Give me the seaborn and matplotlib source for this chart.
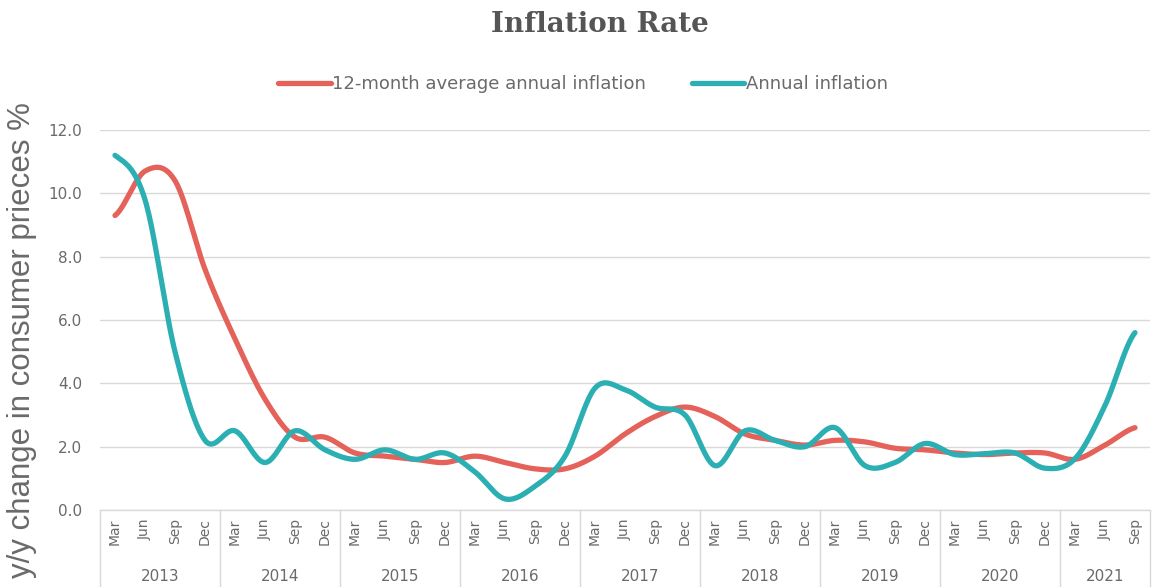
import numpy as np
import pandas as pd
import matplotlib
matplotlib.use("Agg")
import matplotlib.pyplot as plt
import matplotlib.transforms as mtransforms
import seaborn as sns

# Quarterly observations, Mar 2013 - Sep 2021
years = ["2013", "2014", "2015", "2016", "2017", "2018", "2019", "2020", "2021"]
months_per_year = [4, 4, 4, 4, 4, 4, 4, 4, 3]
month_names = ["Mar", "Jun", "Sep", "Dec"]

avg_inflation = [9.3, 10.7, 10.4, 7.6, 5.4, 3.5, 2.3, 2.3,
                 1.8, 1.7, 1.6, 1.5, 1.7, 1.5, 1.3, 1.3,
                 1.7, 2.4, 2.95, 3.25, 2.95, 2.4, 2.2, 2.05,
                 2.2, 2.15, 1.95, 1.9, 1.8, 1.75, 1.8, 1.8,
                 1.6, 2.05, 2.6]
annual_inflation = [11.2, 9.8, 5.0, 2.2, 2.5, 1.5, 2.5, 1.9,
                    1.6, 1.9, 1.6, 1.8, 1.2, 0.35, 0.75, 1.7,
                    3.85, 3.8, 3.25, 3.0, 1.4, 2.5, 2.2, 2.0,
                    2.6, 1.4, 1.5, 2.1, 1.75, 1.78, 1.8, 1.32,
                    1.62, 3.3, 5.6]

month_labels = [m for n in months_per_year for m in month_names[:n]]

RED = "#E5625B"
TEAL = "#2BAFB3"
GRID = "#D9D9D9"
TEXT = "#6A6A6A"


def smooth(y, samples=24):
    """Catmull-Rom curve through the quarterly points."""
    y = np.asarray(y, dtype=float)
    p = np.concatenate([[y[0]], y, [y[-1]]])
    xs, ys = [], []
    for i in range(len(y) - 1):
        p0, p1, p2, p3 = p[i], p[i + 1], p[i + 2], p[i + 3]
        t = np.linspace(0, 1, samples, endpoint=False)
        seg = 0.5 * ((2 * p1) + (-p0 + p2) * t
                     + (2 * p0 - 5 * p1 + 4 * p2 - p3) * t ** 2
                     + (-p0 + 3 * p1 - 3 * p2 + p3) * t ** 3)
        xs.append(i + t)
        ys.append(seg)
    xs.append([len(y) - 1])
    ys.append([y[-1]])
    return np.concatenate(xs), np.concatenate(ys)


sns.set_theme(style="white")
plt.rcParams["font.family"] = ["DejaVu Sans"]

fig = plt.figure(figsize=(11.53, 5.87), dpi=100)
ax = fig.add_axes([100 / 1153, 77 / 587, 1050 / 1153, 380 / 587])

frames = []
for name, vals in [("12-month average annual inflation", avg_inflation),
                   ("Annual inflation", annual_inflation)]:
    sx, sy = smooth(vals)
    frames.append(pd.DataFrame({"x": sx, "y": sy, "series": name}))
df = pd.concat(frames, ignore_index=True)

sns.lineplot(data=df, x="x", y="y", hue="series", sort=False,
             palette={"12-month average annual inflation": RED,
                      "Annual inflation": TEAL},
             linewidth=3.8, ax=ax, legend=True)

n = len(month_labels)
ax.set_xlim(-0.5, n - 0.5)
ax.set_ylim(0, 12)
ax.set_yticks(np.arange(0, 12.1, 2))
ax.set_yticklabels([f"{v:.1f}" for v in np.arange(0, 12.1, 2)],
                   fontsize=11, color=TEXT)
ax.yaxis.grid(True, color=GRID, linewidth=1)
ax.set_axisbelow(True)
ax.tick_params(axis="y", length=0, pad=13)

ax.set_xticks(range(n))
ax.set_xticklabels(month_labels, rotation=90, fontsize=10, color=TEXT)
ax.tick_params(axis="x", length=0, pad=6)

for side in ["top", "right", "left"]:
    ax.spines[side].set_visible(False)
ax.spines["bottom"].set_color(GRID)
ax.spines["bottom"].set_linewidth(1)

ax.set_xlabel("")
ax.set_ylabel("y/y change in consumer prieces %", fontsize=22.5, color=TEXT,
              family=["Liberation Sans", "DejaVu Sans"])
ax.yaxis.set_label_coords(-63 / 1050, (510 - 340) / 380)

# Year groups under the month labels
trans = mtransforms.blended_transform_factory(ax.transData, ax.transAxes)
bounds = np.concatenate([[0], np.cumsum(months_per_year)]) - 0.5
for b in bounds:
    ax.plot([b, b], [0, -0.205], transform=trans, color=GRID,
            linewidth=1, clip_on=False)
for yr, lo, hi in zip(years, bounds[:-1], bounds[1:]):
    ax.text((lo + hi) / 2, -0.175, yr, transform=trans, ha="center",
            va="center", fontsize=11, color=TEXT)

leg = ax.legend(loc="center", bbox_to_anchor=(583 / 1153, 503 / 587),
                bbox_transform=fig.transFigure, ncol=2, frameon=False,
                fontsize=13, handlelength=2.9, handletextpad=0.1,
                columnspacing=2.5)
for text in leg.get_texts():
    text.set_color(TEXT)

fig.text(600 / 1153, 1 - 25 / 587, "Inflation Rate", ha="center",
         va="center", fontsize=20, fontweight="bold", color="#555555",
         family=["DejaVu Serif"])

fig.savefig("out.png", dpi=100, facecolor="white")
